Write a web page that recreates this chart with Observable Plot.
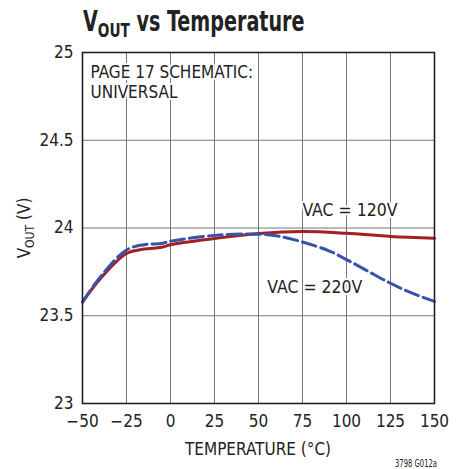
<!DOCTYPE html>
<html><head><meta charset="utf-8">
<script src="https://cdn.jsdelivr.net/npm/d3@7"></script>
<script src="https://cdn.jsdelivr.net/npm/@observablehq/plot@0.6"></script>
<style>
body{margin:0;background:#fff;}
#wrap{position:relative;width:466px;height:469px;font-family:"DejaVu Sans Condensed",sans-serif;}
#title{position:absolute;left:83px;top:5px;font-size:28px;font-weight:bold;color:#222;transform:scaleX(0.76);transform-origin:left top;white-space:nowrap;z-index:2;}
#title sub{font-size:20px;vertical-align:-6px;}
</style></head><body>
<div id="wrap"><div id="title">V<sub>OUT</sub> vs Temperature</div></div>
<script>
const temps120 = [-50,-40,-25,-15,-5,0,25,50,75,100,125,150];
const vout120  = [23.578,23.71,23.855,23.88,23.89,23.905,23.94,23.968,23.98,23.97,23.952,23.942];
const temps220 = [-50,-40,-25,-15,-5,0,25,50,62,75,90,100,112,125,137,150];
const vout220  = [23.578,23.72,23.875,23.905,23.912,23.925,23.958,23.965,23.952,23.92,23.87,23.82,23.755,23.685,23.63,23.582];
const xTicks = [-50,-25,0,25,50,75,100,125,150];
const yTicks = [23,23.5,24,24.5,25];
const yTickLabels = ["23","23.5","24","24.5","25"];
const labels = [
  {x:102, y:24.1, text:"VAC = 120V"},
  {x:82, y:23.66, text:"VAC = 220V"}
];

const d120 = temps120.map((t,i)=>({t, v:vout120[i]}));
const d220 = temps220.map((t,i)=>({t, v:vout220[i]}));
const ff = "'DejaVu Sans Condensed',sans-serif";
const xFmt = d=>d<0?"\u2212"+Math.abs(d):String(d);
const yFmt = d=>yTickLabels[yTicks.indexOf(d)];

const chart = Plot.plot({
  width:466, height:469,
  marginLeft:82, marginRight:32, marginTop:52, marginBottom:66,
  style:{fontFamily:ff, fontSize:"16px", color:"#222", background:"transparent"},
  x:{domain:[-50,150], label:null},
  y:{domain:[23,25], label:null},
  marks:[
    Plot.gridX(xTicks,{stroke:"#777", strokeOpacity:1, strokeWidth:1}),
    Plot.gridY(yTicks,{stroke:"#777", strokeOpacity:1, strokeWidth:1}),
    Plot.text(["PAGE 17 SCHEMATIC:\nUNIVERSAL"],{frameAnchor:"top-left", dx:8, dy:12, textAnchor:"start", lineAnchor:"top", fontSize:17, fill:"#222", stroke:"white", strokeWidth:4, paintOrder:"stroke", lineHeight:1.15}),
    Plot.text(labels,{x:"x", y:"y", text:"text", fontSize:17.5, fill:"#222", stroke:"white", strokeWidth:4, paintOrder:"stroke"}),
    Plot.line(d120,{x:"t", y:"v", stroke:"#a31f24", strokeWidth:3, curve:"catmull-rom"}),
    Plot.line(d220,{x:"t", y:"v", stroke:"#3553a8", strokeWidth:3, strokeDasharray:"14,5", curve:"catmull-rom"}),
    Plot.frame({stroke:"#222", strokeWidth:1.6}),
    Plot.axisX(xTicks,{tickSize:0, tickPadding:11, label:null, tickFormat:xFmt, fontSize:17}),
    Plot.axisY(yTicks,{tickSize:0, tickPadding:9, label:null, tickFormat:yFmt, fontSize:17})
  ]
});
const wrap = document.getElementById("wrap");
chart.style.position="absolute"; chart.style.left="0"; chart.style.top="0";
wrap.appendChild(chart);
const svg = d3.select(chart);
const yl = svg.append("text").attr("transform","translate(30,228) rotate(-90)").attr("text-anchor","middle")
  .attr("font-size",17).attr("fill","#222").attr("font-family",ff);
yl.append("tspan").text("V");
yl.append("tspan").attr("font-size",12).attr("dy",4).text("OUT");
yl.append("tspan").attr("dy",-4).text(" (V)");
svg.append("text").attr("x",258).attr("y",455).attr("text-anchor","middle").attr("font-size",17).attr("fill","#222").attr("font-family",ff).text("TEMPERATURE (\u00B0C)");
svg.append("text").attr("x",395).attr("y",467).attr("text-anchor","start").attr("font-size",10).attr("textLength",42).attr("lengthAdjust","spacingAndGlyphs").attr("fill","#222").attr("font-family",ff).text("3798 G012a");
</script></body></html>
